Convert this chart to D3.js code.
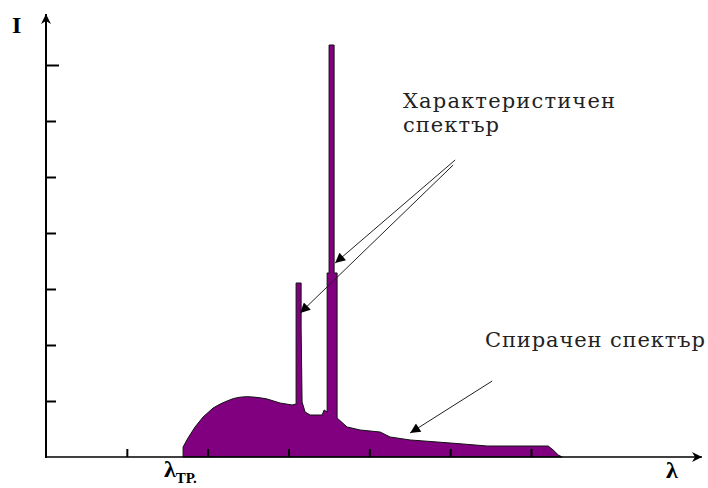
<!DOCTYPE html>
<html>
<head>
<meta charset="utf-8">
<script src="https://cdn.jsdelivr.net/npm/d3@7"></script>
<style>
  html, body { margin: 0; padding: 0; background: #fff; }
  svg { display: block; }
</style>
</head>
<body>
<svg id="chart" width="708" height="488"></svg>
<script>
// Wavelength (arbitrary units) and intensity (arbitrary units) of the spectrum outline
const lambda = [1.696, 1.696, 1.757, 1.844, 1.943, 2.067, 2.160, 2.240, 2.320, 2.401, 2.480, 2.562, 2.650,
  2.735, 2.896, 3.045, 3.094, 3.094, 3.156, 3.156, 3.168, 3.205, 3.267, 3.416, 3.441, 3.478, 3.478,
  3.502, 3.502, 3.564, 3.564, 3.601, 3.601, 3.725, 3.886, 4.134, 4.257, 4.505, 4.839, 5.161, 5.458,
  6.213, 6.275, 6.337, 6.386];
const intensity = [0, 0.179, 0.339, 0.536, 0.714, 0.875, 0.950, 1.000, 1.045, 1.068, 1.078, 1.071, 1.057,
  1.036, 0.964, 0.929, 0.946, 3.107, 3.107, 2.304, 0.982, 0.804, 0.750, 0.750, 0.839, 0.804, 3.286,
  3.286, 7.357, 7.357, 3.286, 3.286, 0.696, 0.536, 0.482, 0.446, 0.357, 0.304, 0.268, 0.232, 0.196,
  0.196, 0.125, 0.036, 0];
const xTicks = [1, 2, 3, 4, 5, 6];
const yTicks = [1, 2, 3, 4, 5, 6, 7];
// Annotation arrows: [lambda, I] start and end points
const arrowsFrom = [[5.062, 5.304], [5.037, 5.214], [5.520, 1.357]];
const arrowsTo = [[3.577, 3.464], [3.144, 2.571], [4.505, 0.429]];
const labelChar = ["Характеристичен", "спектър"];
const labelBrems = "Спирачен спектър";

const svg = d3.select("#chart");
const x = d3.scaleLinear().domain([0, 6]).range([46, 531]);
const y = d3.scaleLinear().domain([0, 7]).range([457, 65]);

const defs = svg.append("defs");
defs.append("marker").attr("id", "ah").attr("viewBox", "0 0 10 10")
  .attr("refX", 10).attr("refY", 5).attr("markerWidth", 12).attr("markerHeight", 10)
  .attr("markerUnits", "userSpaceOnUse").attr("orient", "auto")
  .append("path").attr("d", "M0,0 L10,5 L0,10 Z").attr("fill", "#000");
defs.append("marker").attr("id", "axh").attr("viewBox", "0 0 10 10")
  .attr("refX", 10).attr("refY", 5).attr("markerWidth", 16).attr("markerHeight", 10)
  .attr("markerUnits", "userSpaceOnUse").attr("orient", "auto")
  .append("path").attr("d", "M0,0 L10,5 L0,10 L3,5 Z").attr("fill", "#000");

// Spectrum fill
const pts = lambda.map((l, i) => [l, intensity[i]]);
const area = d3.area().x(d => x(d[0])).y0(y(0)).y1(d => y(d[1])).curve(d3.curveLinear);
svg.append("path").datum(pts).attr("d", area)
  .attr("fill", "#800080").attr("stroke", "#111").attr("stroke-width", 1)
  .attr("stroke-linejoin", "round");

// X axis (ticks pointing up)
const xAxis = d3.axisBottom(x).tickValues(xTicks).tickSizeInner(-8).tickSizeOuter(0).tickFormat("");
const gx = svg.append("g").attr("transform", `translate(0,${y(0)})`).call(xAxis);
gx.select(".domain").remove();
gx.selectAll(".tick line").attr("stroke", "#000").attr("stroke-width", 2);
svg.append("line").attr("x1", x(0)).attr("x2", 702).attr("y1", y(0)).attr("y2", y(0))
  .attr("stroke", "#000").attr("stroke-width", 1.5).attr("marker-end", "url(#axh)");

// Y axis (ticks pointing right)
const yAxis = d3.axisLeft(y).tickValues(yTicks).tickSizeInner(-10).tickSizeOuter(0).tickFormat("");
const gy = svg.append("g").attr("transform", `translate(${x(0)},0)`).call(yAxis);
gy.select(".domain").remove();
gy.selectAll(".tick line").attr("stroke", "#000").attr("stroke-width", 2);
gy.selectAll(".tick").filter(d => d === 7).select("line").attr("x2", 13);
svg.append("line").attr("x1", x(0)).attr("x2", x(0)).attr("y1", y(0) + 1).attr("y2", 14)
  .attr("stroke", "#000").attr("stroke-width", 2).attr("marker-end", "url(#axh)");

// Annotation arrows
svg.selectAll("line.ann").data(arrowsFrom).enter().append("line").attr("class", "ann")
  .attr("x1", d => x(d[0])).attr("y1", d => y(d[1]))
  .attr("x2", (d, i) => x(arrowsTo[i][0])).attr("y2", (d, i) => y(arrowsTo[i][1]))
  .attr("stroke", "#222").attr("stroke-width", 1).attr("marker-end", "url(#ah)");

// Texts
const serif = "'Liberation Serif', 'DejaVu Serif', serif";
const dserif = "'DejaVu Serif', 'Liberation Serif', serif";
svg.append("text").attr("x", 12).attr("y", 33).text("I")
  .attr("font-family", serif).attr("font-weight", "bold").attr("font-size", 24);
svg.append("text").attr("x", 666).attr("y", 478).text("λ")
  .attr("font-family", serif).attr("font-weight", "bold").attr("font-size", 24);
const lt = svg.append("text").attr("x", 164).attr("y", 477)
  .attr("font-family", serif).attr("font-weight", "bold").attr("font-size", 24);
lt.append("tspan").text("λ");
lt.append("tspan").attr("dy", 6).attr("font-size", 15).text("ТР.");

svg.append("text").attr("x", 403).attr("y", 108).text(labelChar[0])
  .attr("font-family", dserif).attr("font-size", 21)
  .attr("textLength", 212).attr("lengthAdjust", "spacing").attr("fill", "#222");
svg.append("text").attr("x", 403).attr("y", 132).text(labelChar[1])
  .attr("font-family", dserif).attr("font-size", 21)
  .attr("textLength", 96).attr("lengthAdjust", "spacing").attr("fill", "#222");
svg.append("text").attr("x", 485).attr("y", 347).text(labelBrems)
  .attr("font-family", dserif).attr("font-size", 21)
  .attr("textLength", 220).attr("lengthAdjust", "spacing").attr("fill", "#222");
</script>
</body>
</html>
